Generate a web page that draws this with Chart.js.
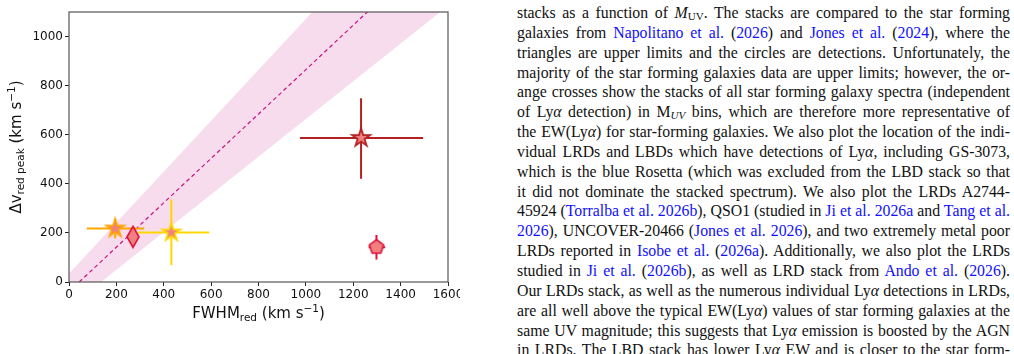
<!DOCTYPE html>
<html>
<head>
<meta charset="utf-8">
<script src="https://cdn.jsdelivr.net/npm/chart.js@4"></script>
<style>
  html, body { margin: 0; padding: 0; background: #fff; overflow: hidden; }
  body { width: 1014px; height: 354px; position: relative; }
  #plot { position: absolute; left: 0; top: 0; width: 460px; height: 354px; overflow: hidden; }
  #plot canvas { display: block; }
  #text {
    position: absolute; left: 517px; top: 3px; width: 493px;
    font-family: "Liberation Serif", "Times New Roman", serif;
    font-size: 15.8px; line-height: 19.85px; color: #111;
  }
  #text div { text-align: justify; text-align-last: justify; height: 19.85px; }
  #text a { color: #1010ff; text-decoration: none; }
  #text sub { font-size: 70%; line-height: 0; vertical-align: -0.2em; }
</style>
</head>
<body>
<div id="plot"><canvas id="chart" width="500" height="354"></canvas></div>
<div id="text">
  <div>stacks as a function of <i>M</i><sub>UV</sub>. The stacks are compared to the star forming</div>
  <div>galaxies from <a>Napolitano et al.</a> (<a>2026</a>) and <a>Jones et al.</a> (<a>2024</a>), where the</div>
  <div>triangles are upper limits and the circles are detections. Unfortunately, the</div>
  <div>majority of the star forming galaxies data are upper limits; however, the or-</div>
  <div>ange crosses show the stacks of all star forming galaxy spectra (independent</div>
  <div>of Ly<i>α</i> detection) in M<sub><i>UV</i></sub> bins, which are therefore more representative of</div>
  <div>the EW(Ly<i>α</i>) for star-forming galaxies. We also plot the location of the indi-</div>
  <div>vidual LRDs and LBDs which have detections of Ly<i>α</i>, including GS-3073,</div>
  <div>which is the blue Rosetta (which was excluded from the LBD stack so that</div>
  <div>it did not dominate the stacked spectrum). We also plot the LRDs A2744-</div>
  <div>45924 (<a>Torralba et al. 2026b</a>), QSO1 (studied in <a>Ji et al. 2026a</a> and <a>Tang et al.</a></div>
  <div><a>2026</a>), UNCOVER-20466 (<a>Jones et al. 2026</a>), and two extremely metal poor</div>
  <div>LRDs reported in <a>Isobe et al.</a> (<a>2026a</a>). Additionally, we also plot the LRDs</div>
  <div>studied in <a>Ji et al.</a> (<a>2026b</a>), as well as LRD stack from <a>Ando et al.</a> (<a>2026</a>).</div>
  <div>Our LRDs stack, as well as the numerous individual Ly<i>α</i> detections in LRDs,</div>
  <div>are all well above the typical EW(Ly<i>α</i>) values of star forming galaxies at the</div>
  <div>same UV magnitude; this suggests that Ly<i>α</i> emission is boosted by the AGN</div>
  <div>in LRDs. The LBD stack has lower Ly<i>α</i> EW and is closer to the star form-</div>
</div>
<script>
// values (km/s)
const fwhm      = [195, 270, 432, 1233, 1298];
const dv        = [218, 184, 202, 587, 142];
const fwhmErrLo = [120, 0, 140, 258, 33];
const fwhmErrHi = [123, 0, 160, 262, 37];
const dvErrLo   = [40, 0, 134, 166, 50];
const dvErrHi   = [41, 0, 134, 162, 49];
const shapes    = ['star', 'thin_diamond', 'star', 'star', 'pentagon'];
const edgeCols  = ['#ffa500', '#dc143c', '#ffd700', '#b22222', '#dc143c'];

// relation and its band, given at the axis ends
const relX     = [0, 1600];
const relMid   = [-39, 1408];
const relUpper = [35, 1694];
const relLower = [-104, 1125];

const xTicks = [0, 200, 400, 600, 800, 1000, 1200, 1400, 1600];
const yTicks = [0, 200, 400, 600, 800, 1000];

const FILL = '#f08080';

function makeMarker(shape, edge) {
  const c = document.createElement('canvas');
  c.width = 24; c.height = 24;
  const g = c.getContext('2d');
  g.translate(12, 12);
  g.beginPath();
  if (shape === 'star') {
    const R = 9.5, r = R * 0.382;
    for (let i = 0; i < 10; i++) {
      const a = -Math.PI / 2 + i * Math.PI / 5;
      const rr = i % 2 ? r : R;
      g.lineTo(rr * Math.cos(a), rr * Math.sin(a));
    }
  } else if (shape === 'pentagon') {
    const R = 7.5;
    for (let i = 0; i < 5; i++) {
      const a = -Math.PI / 2 + i * 2 * Math.PI / 5;
      g.lineTo(R * Math.cos(a), R * Math.sin(a));
    }
  } else {
    g.moveTo(0, -10.5); g.lineTo(6, 0); g.lineTo(0, 10.5); g.lineTo(-6, 0);
  }
  g.closePath();
  g.fillStyle = FILL;
  g.fill();
  g.lineWidth = shape === 'star' ? 1.8 : 1.6;
  g.lineJoin = 'miter';
  g.strokeStyle = edge;
  g.stroke();
  return c;
}

const markers = shapes.map((s, i) => makeMarker(s, edgeCols[i]));
const pts = fwhm.map((x, i) => ({ x: x, y: dv[i] }));

// error bars, drawn just before the marker dataset
const errorBars = {
  id: 'errorBars',
  beforeDatasetDraw(chart, args) {
    if (args.index !== 3) return;
    const xs = chart.scales.x, ys = chart.scales.y, ctx = chart.ctx;
    ctx.save();
    ctx.lineWidth = 2;
    fwhm.forEach((x, i) => {
      ctx.strokeStyle = edgeCols[i];
      const px = xs.getPixelForValue(x), py = ys.getPixelForValue(dv[i]);
      ctx.beginPath();
      if (fwhmErrLo[i] || fwhmErrHi[i]) {
        ctx.moveTo(xs.getPixelForValue(x - fwhmErrLo[i]), py);
        ctx.lineTo(xs.getPixelForValue(x + fwhmErrHi[i]), py);
      }
      if (dvErrLo[i] || dvErrHi[i]) {
        ctx.moveTo(px, ys.getPixelForValue(dv[i] - dvErrLo[i]));
        ctx.lineTo(px, ys.getPixelForValue(dv[i] + dvErrHi[i]));
      }
      ctx.stroke();
    });
    ctx.restore();
  }
};

function drawRich(ctx, parts, size) {
  let w = 0;
  parts.forEach(p => {
    ctx.font = (p.sub || p.sup ? size * 0.7 : size) + 'px "DejaVu Sans"';
    p.w = ctx.measureText(p.t).width;
    w += p.w;
  });
  let x = -w / 2;
  parts.forEach(p => {
    ctx.font = (p.sub || p.sup ? size * 0.7 : size) + 'px "DejaVu Sans"';
    const dy = p.sub ? size * 0.22 : p.sup ? -size * 0.4 : 0;
    ctx.fillText(p.t, x, dy);
    x += p.w;
  });
}

// frame + axis titles with sub/superscripts
const frameAndTitles = {
  id: 'frameAndTitles',
  afterDraw(chart) {
    const a = chart.chartArea, ctx = chart.ctx;
    ctx.save();
    ctx.strokeStyle = '#555';
    ctx.lineWidth = 1.2;
    ctx.strokeRect(a.left, a.top, a.right - a.left, a.bottom - a.top);
    ctx.fillStyle = '#111';
    ctx.textAlign = 'left';
    ctx.textBaseline = 'alphabetic';
    ctx.save();
    ctx.translate((a.left + a.right) / 2, 318);
    drawRich(ctx, [{ t: 'FWHM' }, { t: 'red', sub: true }, { t: ' (km s' }, { t: '\u22121', sup: true }, { t: ')' }], 15);
    ctx.restore();
    ctx.save();
    ctx.translate(21, (a.top + a.bottom) / 2);
    ctx.rotate(-Math.PI / 2);
    drawRich(ctx, [{ t: '\u0394v' }, { t: 'red peak', sub: true }, { t: ' (km s' }, { t: '\u22121', sup: true }, { t: ')' }], 15);
    ctx.restore();
    ctx.restore();
  }
};

const tickFont = { family: 'DejaVu Sans', size: 12 };

new Chart(document.getElementById('chart'), {
  type: 'line',
  data: {
    datasets: [
      {
        data: relX.map((x, i) => ({ x: x, y: relUpper[i] })),
        borderWidth: 0, pointRadius: 0,
        backgroundColor: 'rgba(199,21,133,0.15)',
        fill: '+1', order: 4
      },
      {
        data: relX.map((x, i) => ({ x: x, y: relLower[i] })),
        borderWidth: 0, pointRadius: 0, fill: false, order: 3
      },
      {
        data: relX.map((x, i) => ({ x: x, y: relMid[i] })),
        borderColor: '#c71585', borderWidth: 1.2, borderDash: [4, 3],
        pointRadius: 0, fill: false, order: 2
      },
      {
        data: pts,
        showLine: false,
        pointStyle: markers,
        pointRadius: 6,
        order: 1
      }
    ]
  },
  options: {
    responsive: false,
    animation: false,
    layout: { padding: { top: 12, right: 52, left: 0, bottom: 0 } },
    plugins: { legend: { display: false }, tooltip: { enabled: false } },
    scales: {
      x: {
        type: 'linear', min: 0, max: 1600,
        afterBuildTicks: s => { s.ticks = xTicks.map(v => ({ value: v })); },
        afterFit: s => { s.height = 72; },
        ticks: { font: tickFont, color: '#111', padding: 2, maxRotation: 0, callback: v => String(v) },
        grid: { drawOnChartArea: false, tickLength: 4, tickColor: '#222' },
        border: { display: false }
      },
      y: {
        type: 'linear', min: 0, max: 1100,
        afterBuildTicks: s => { s.ticks = yTicks.map(v => ({ value: v })); },
        afterFit: s => { s.width = 69; },
        ticks: { font: tickFont, color: '#111', padding: 2, callback: v => String(v) },
        grid: { drawOnChartArea: false, tickLength: 4, tickColor: '#222' },
        border: { display: false }
      }
    }
  },
  plugins: [errorBars, frameAndTitles]
});
</script>
</body>
</html>
